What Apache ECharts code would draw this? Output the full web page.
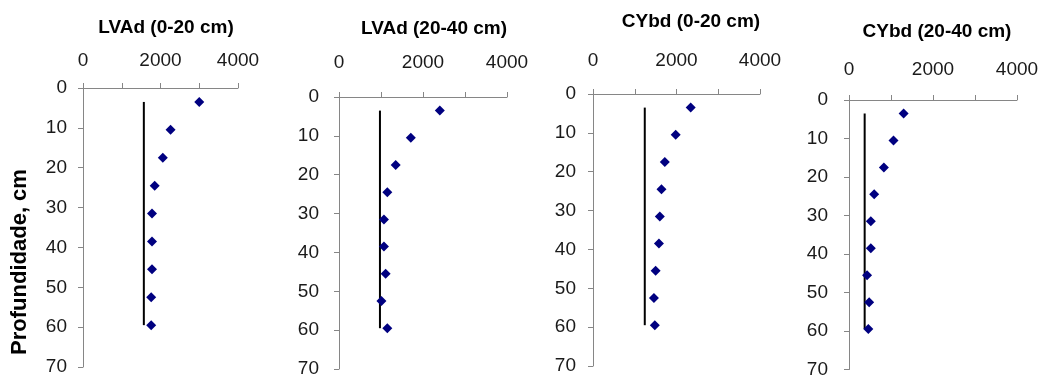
<!DOCTYPE html>
<html>
<head>
<meta charset="utf-8">
<script src="https://cdn.jsdelivr.net/npm/echarts@6/dist/echarts.min.js"></script>
<style>
html,body{margin:0;padding:0;background:#fff;}
#chart{width:1050px;height:379px;}
</style>
</head>
<body>
<div id="chart"></div>
<script>
// ---- data ----
const depth = [3.5, 10.5, 17.5, 24.5, 31.5, 38.5, 45.5, 52.5, 59.5];
const panelTitles = ['LVAd (0-20 cm)', 'LVAd (20-40 cm)', 'CYbd (0-20 cm)', 'CYbd (20-40 cm)'];
const lvad020 = [3000, 2260, 2060, 1850, 1780, 1780, 1780, 1760, 1760];
const lvad2040 = [2400, 1710, 1350, 1150, 1070, 1070, 1110, 1010, 1150];
const cybd020 = [2340, 1980, 1720, 1640, 1600, 1580, 1500, 1460, 1480];
const cybd2040 = [1300, 1060, 830, 600, 520, 520, 430, 480, 460];
const refValues = [1570, 975, 1240, 373];
const yAxisTitle = 'Profundidade, cm';

const seriesValues = [lvad020, lvad2040, cybd020, cybd2040];

// ---- layout (styles only) ----
const grids = [
  {left: 83, top: 88, width: 155, height: 279},
  {left: 339, top: 97, width: 168, height: 272},
  {left: 593, top: 94, width: 167, height: 272},
  {left: 849, top: 100, width: 168, height: 272}
];
const xLabelMargin = [18, 25, 24, 21];
const yLabelMargin = [16, 20, 17, 21];
const titlePos = [[166, 28], [434, 29], [691, 22], [937, 32]];

const FONT = '"Liberation Sans", Arial, sans-serif';
const axisGray = '#868686';

const option = {
  backgroundColor: '#ffffff',
  animation: false,
  textStyle: {fontFamily: FONT},
  title: panelTitles.map((t, i) => ({
    text: t,
    left: titlePos[i][0],
    top: titlePos[i][1] - 10,
    textAlign: 'center',
    padding: 0,
    textStyle: {fontFamily: FONT, fontSize: 19, fontWeight: 'bold', color: '#000'}
  })),
  grid: grids.map(g => Object.assign({containLabel: false}, g)),
  xAxis: grids.map((g, i) => ({
    gridIndex: i,
    type: 'value',
    position: 'top',
    min: 0, max: 4000, interval: 2000,
    axisLine: {show: true, onZero: false, lineStyle: {color: axisGray, width: 1}},
    axisTick: {show: true, inside: false, length: 5, lineStyle: {color: axisGray}},
    minorTick: {show: true, splitNumber: 2, length: 5, lineStyle: {color: axisGray}},
    splitLine: {show: false},
    axisLabel: {fontFamily: FONT, fontSize: 19, color: '#1a1a1a', margin: xLabelMargin[i],
      formatter: v => String(v)}
  })),
  yAxis: grids.map((g, i) => ({
    gridIndex: i,
    type: 'value',
    inverse: true,
    min: 0, max: 70, interval: 10,
    axisLine: {show: true, onZero: false, lineStyle: {color: axisGray, width: 1}},
    axisTick: {show: true, inside: false, length: 5, lineStyle: {color: axisGray}},
    splitLine: {show: false},
    axisLabel: {fontFamily: FONT, fontSize: 19, color: '#1a1a1a', margin: yLabelMargin[i],
      formatter: v => String(v)}
  })),
  graphic: [{
    type: 'text',
    x: 20, y: 262,
    rotation: Math.PI / 2,
    style: {
      text: yAxisTitle,
      fontFamily: FONT, fontSize: 22, fontWeight: 'bold',
      fill: '#000',
      align: 'center', verticalAlign: 'middle',
      textAlign: 'center', textVerticalAlign: 'middle'
    }
  }],
  series: []
};

seriesValues.forEach((vals, i) => {
  option.series.push({
    type: 'line',
    xAxisIndex: i, yAxisIndex: i,
    data: [[refValues[i], depth[0]], [refValues[i], depth[depth.length - 1]]],
    symbol: 'none',
    lineStyle: {color: '#000', width: 2},
    z: 2
  });
  option.series.push({
    type: 'scatter',
    xAxisIndex: i, yAxisIndex: i,
    data: vals.map((v, k) => [v, depth[k]]),
    symbol: 'diamond',
    symbolSize: [10, 10],
    itemStyle: {color: '#000080', opacity: 1},
    z: 3
  });
});

const chart = echarts.init(document.getElementById('chart'), null, {renderer: 'canvas'});
chart.setOption(option);
</script>
</body>
</html>
